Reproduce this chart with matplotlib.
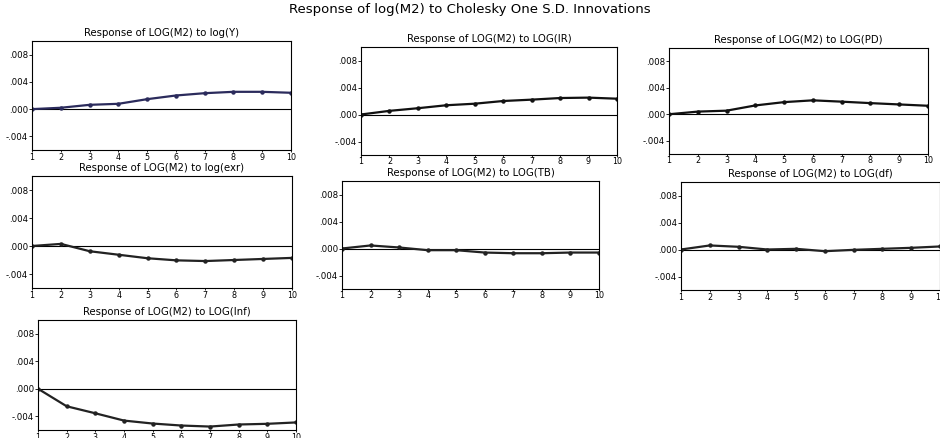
import matplotlib
matplotlib.use("Agg")
import matplotlib.pyplot as plt

plt.rcParams['font.family'] = ['DejaVu Sans']

periods = [1, 2, 3, 4, 5, 6, 7, 8, 9, 10]

resp_y = [0.0, 0.0002, 0.00063, 0.00078, 0.00146, 0.0020, 0.00234, 0.00254, 0.00254, 0.0024]
resp_ir = [0.0, 0.00054, 0.00093, 0.00137, 0.0016, 0.0020, 0.0022, 0.00244, 0.0025, 0.00234]
resp_pd = [0.0, 0.0004, 0.00054, 0.00133, 0.00183, 0.0021, 0.0019, 0.00168, 0.00148, 0.00128]
resp_exr = [0.0, 0.0003, -0.00075, -0.00125, -0.00175, -0.00205, -0.00215, -0.0020, -0.00185, -0.0017]
resp_tb = [0.0, 0.00045, 0.00015, -0.00025, -0.00025, -0.0006, -0.0007, -0.0007, -0.0006, -0.0006]
resp_df = [0.0, 0.0006, 0.0004, 0.0, 0.0001, -0.00025, -0.00005, 0.0001, 0.00025, 0.00045]
resp_inf = [0.0, -0.00255, -0.00357, -0.00463, -0.00506, -0.00535, -0.0055, -0.0052, -0.0051, -0.0049]

titles = ['Response of LOG(M2) to log(Y)', 'Response of LOG(M2) to LOG(IR)',
          'Response of LOG(M2) to LOG(PD)', 'Response of LOG(M2) to log(exr)',
          'Response of LOG(M2) to LOG(TB)', 'Response of LOG(M2) to LOG(df)',
          'Response of LOG(M2) to LOG(Inf)']
series = [resp_y, resp_ir, resp_pd, resp_exr, resp_tb, resp_df, resp_inf]
yticks = [-0.004, 0.000, 0.004, 0.008]
ytick_labels = ['-.004', '.000', '.004', '.008']

W, H = 940, 438
# panel boxes in pixels: left, top, right, bottom
boxes = [(32, 41, 291, 150), (361, 47, 617, 155), (669, 48, 928, 154),
         (32, 176, 292, 288), (342, 181, 599, 289), (681, 182, 940, 290),
         (38, 320, 296, 430)]
colors = ['#2b2b5c', '#111111', '#111111', '#222222', '#222222', '#222222', '#222222']

fig = plt.figure(figsize=(W / 100, H / 100), dpi=100)
fig.text(0.5, 1 - 10 / H, 'Response of log(M2) to Cholesky One S.D. Innovations',
         ha='center', va='center', fontsize=9.5)

for (l, t, r, b), title, vals, c in zip(boxes, titles, series, colors):
    ax = fig.add_axes([l / W, 1 - b / H, (r - l) / W, (b - t) / H])
    ax.axhline(0, color='black', lw=0.8)
    ax.plot(periods, vals, color=c, lw=1.6, marker='o', ms=2.2)
    ax.set_xlim(1, 10)
    ax.set_ylim(-0.006, 0.010)
    ax.set_xticks(periods)
    ax.set_yticks(yticks)
    ax.set_yticklabels(ytick_labels)
    ax.tick_params(axis='y', labelsize=6.2, length=2.5, width=0.6, pad=0.5)
    ax.tick_params(axis='x', labelsize=5.8, length=1.5, width=0.6, pad=0.3)
    for s in ax.spines.values():
        s.set_linewidth(0.8)
    ax.set_title(title, fontsize=7.3, pad=3.5)

fig.savefig('out.png', dpi=100)
